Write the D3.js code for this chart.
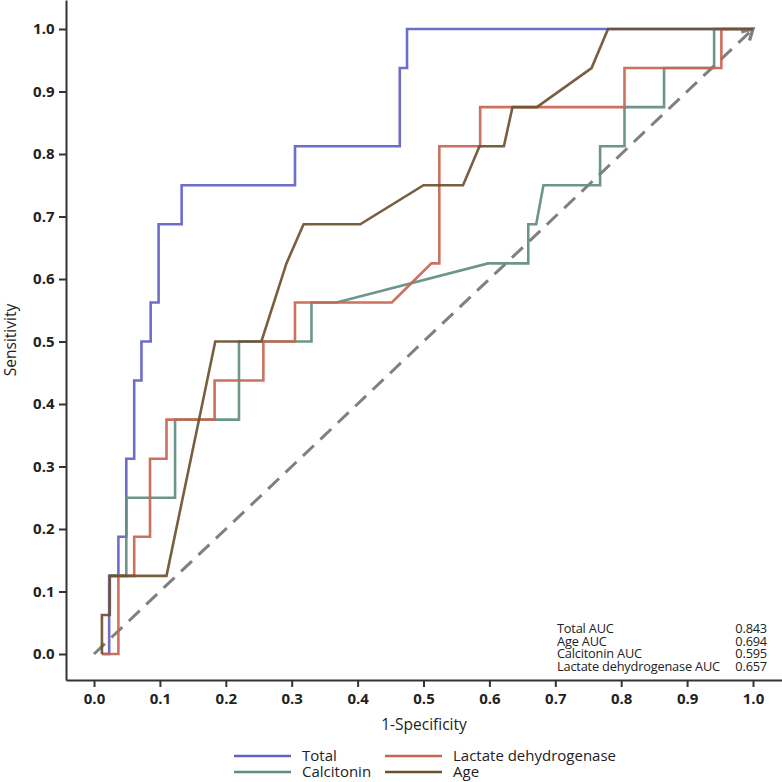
<!DOCTYPE html>
<html><head><meta charset="utf-8">
<script src="https://cdn.jsdelivr.net/npm/d3@7"></script>
<style>body{margin:0;background:#fff}</style>
</head><body><svg id="c" width="782" height="782"></svg>
<script>
const xTicks = [0,0.1,0.2,0.3,0.4,0.5,0.6,0.7,0.8,0.9,1.0];
const yTicks = [0,0.1,0.2,0.3,0.4,0.5,0.6,0.7,0.8,0.9,1.0];
const totalPts = [[0.012,0],[0.023,0],[0.023,0.125],[0.037,0.125],[0.037,0.1875],[0.049,0.1875],[0.049,0.3125],[0.061,0.3125],[0.061,0.4375],[0.072,0.4375],[0.072,0.5],[0.086,0.5],[0.086,0.5625],[0.098,0.5625],[0.098,0.6875],[0.133,0.6875],[0.133,0.75],[0.305,0.75],[0.305,0.8125],[0.464,0.8125],[0.464,0.9375],[0.475,0.9375],[0.475,1],[1,1]];
const calcitoninPts = [[0.024,0.125],[0.049,0.125],[0.049,0.25],[0.123,0.25],[0.123,0.375],[0.22,0.375],[0.22,0.5],[0.33,0.5],[0.33,0.5625],[0.368,0.5625],[0.598,0.625],[0.659,0.625],[0.659,0.6875],[0.671,0.6875],[0.682,0.75],[0.768,0.75],[0.768,0.8125],[0.805,0.8125],[0.805,0.875],[0.865,0.875],[0.865,0.9375],[0.941,0.9375],[0.941,1],[1,1]];
const ldhPts = [[0.012,0],[0.037,0],[0.037,0.125],[0.061,0.125],[0.061,0.1875],[0.085,0.1875],[0.085,0.3125],[0.110,0.3125],[0.110,0.375],[0.183,0.375],[0.183,0.4375],[0.257,0.4375],[0.257,0.5],[0.305,0.5],[0.305,0.5625],[0.452,0.5625],[0.512,0.625],[0.524,0.625],[0.524,0.8125],[0.586,0.8125],[0.586,0.875],[0.805,0.875],[0.805,0.9375],[0.952,0.9375],[0.952,1],[1,1]];
const agePts = [[0.012,0],[0.012,0.0625],[0.024,0.0625],[0.024,0.125],[0.110,0.125],[0.184,0.5],[0.254,0.5],[0.292,0.625],[0.318,0.6875],[0.404,0.6875],[0.50,0.75],[0.560,0.75],[0.585,0.8125],[0.622,0.8125],[0.635,0.875],[0.672,0.875],[0.755,0.9375],[0.78,1],[1,1]];
const seriesNames = ["Total","Calcitonin","Lactate dehydrogenase","Age"];
const seriesColors = ["#6262c6","#5f8d82","#c8654f","#6b5130"];
const aucLabels = ["Total AUC","Age AUC","Calcitonin AUC","Lactate dehydrogenase AUC"];
const aucValues = ["0.843","0.694","0.595","0.657"];
const refLine = [[0,0],[1,1]];

const svg = d3.select("#c");
const font = "'Open Sans', 'DejaVu Sans', sans-serif";
const x = d3.scaleLinear().domain([-0.0425,1.044]).range([66,782]);
const y = d3.scaleLinear().domain([-0.0416,1.0464]).range([680,0]);

const defs = svg.append("defs");
defs.append("marker").attr("id","arr").attr("viewBox","0 0 10 10").attr("refX",8).attr("refY",5)
  .attr("markerWidth",5).attr("markerHeight",5).attr("orient","auto")
  .append("path").attr("d","M1,1 L8,5 L1,9").attr("fill","none").attr("stroke","#808080").attr("stroke-width",2.2);
const line = d3.line().x(d=>x(d[0])).y(d=>y(d[1]));
svg.append("path").datum(refLine).attr("d",line).attr("fill","none")
  .attr("stroke","#808080").attr("stroke-width",3).attr("stroke-dasharray","15,9")
  .attr("marker-end","url(#arr)");

const allPts = [totalPts, calcitoninPts, ldhPts, agePts];
allPts.forEach((pts,i)=>{
  svg.append("path").datum(pts).attr("d",line).attr("fill","none")
    .attr("stroke",seriesColors[i]).attr("stroke-width",2.6).attr("stroke-opacity",0.92)
    .attr("stroke-linejoin","miter");
});

const xAxis = svg.append("g").attr("transform","translate(0,680)")
  .call(d3.axisBottom(x).tickValues(xTicks).tickFormat(d3.format(".1f")).tickSize(7).tickSizeOuter(0));
const yAxis = svg.append("g").attr("transform","translate(66,0)")
  .call(d3.axisLeft(y).tickValues(yTicks).tickFormat(d3.format(".1f")).tickSize(7).tickSizeOuter(0));
[xAxis,yAxis].forEach(g=>{
  g.select(".domain").attr("stroke","#333").attr("stroke-width",2);
  g.selectAll(".tick line").attr("stroke","#333").attr("stroke-width",2);
  g.selectAll(".tick text").attr("font-family",font).attr("font-size",15).attr("font-weight",700).attr("fill","#222");
});
xAxis.selectAll(".tick text").attr("dy","0.9em");
yAxis.selectAll(".tick text").attr("dx","-0.1em");

svg.append("text").attr("x",424).attr("y",730).attr("text-anchor","middle")
  .attr("font-family",font).attr("font-size",15.5).attr("font-weight",500).attr("fill","#222").text("1-Specificity");
svg.append("text").attr("transform","translate(16,340) rotate(-90)").attr("text-anchor","middle")
  .attr("font-family",font).attr("font-size",15.5).attr("font-weight",500).attr("fill","#222").text("Sensitivity");

// AUC table as two multi-line text blocks
const labBlock = svg.append("text").attr("font-family",font).attr("font-size",12.8)
  .attr("font-weight",500).attr("letter-spacing","-0.2").attr("fill","#222");
aucLabels.forEach((t,i)=>labBlock.append("tspan").attr("x",557).attr("y",633+i*12.5).text(t));
const valBlock = svg.append("text").attr("font-family",font).attr("font-size",12.8).attr("text-anchor","end")
  .attr("font-weight",500).attr("letter-spacing","-0.2").attr("fill","#222");
aucValues.forEach((t,i)=>valBlock.append("tspan").attr("x",767).attr("y",633+i*12.5).text(t));

const legPos = [[234,756],[234,772],[385,756],[385,772]];
seriesNames.forEach((n,i)=>{
  const [lx,ly] = legPos[i];
  svg.append("line").attr("x1",lx).attr("x2",lx+57).attr("y1",ly).attr("y2",ly)
    .attr("stroke",seriesColors[i]).attr("stroke-width",2.6);
  svg.append("text").attr("x",lx+68).attr("y",ly+5).attr("font-family",font).attr("font-size",15)
    .attr("font-weight",500).attr("fill","#222").text(n);
});
</script></body></html>
